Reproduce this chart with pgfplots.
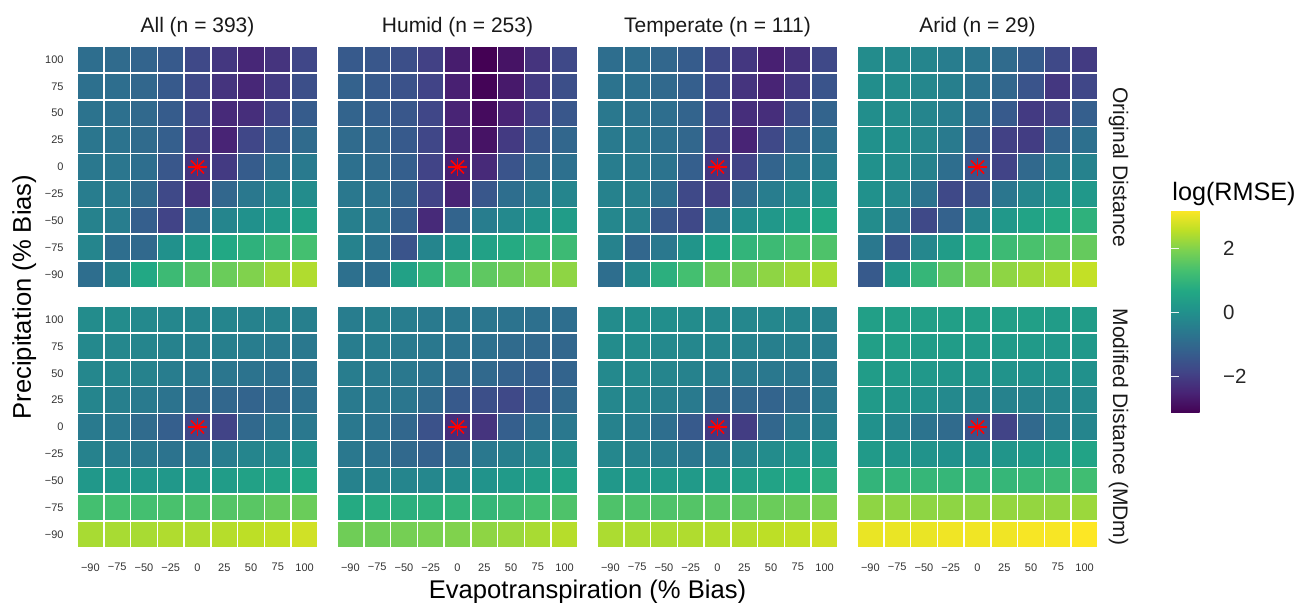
\documentclass[border=0pt]{standalone}
\usepackage{fontspec}
\setmainfont{Liberation Sans}
\usepackage{pgfplots}
\usepackage{pgfplotstable}
\pgfplotsset{compat=1.18}

\pgfplotsset{colormap={vir}{rgb255=(68,1,84) rgb255=(72,36,117) rgb255=(65,68,135) rgb255=(53,95,141) rgb255=(42,120,142) rgb255=(33,145,140) rgb255=(34,168,132) rgb255=(68,191,112) rgb255=(122,209,81) rgb255=(189,223,38) rgb255=(253,231,37)}}

% Panel A: All, Original Distance (x = ET index, y = P index, c = log(RMSE))
\pgfplotstableread[row sep=\\]{
x y c\\
0 8 -0.86\\ 1 8 -0.93\\ 2 8 -1.12\\ 3 8 -1.37\\ 4 8 -1.75\\ 5 8 -2.13\\ 6 8 -2.45\\ 7 8 -2.20\\ 8 8 -1.82\\
0 7 -0.80\\ 1 7 -0.86\\ 2 7 -1.05\\ 3 7 -1.37\\ 4 7 -1.75\\ 5 7 -2.20\\ 6 7 -2.45\\ 7 7 -2.07\\ 8 7 -1.63\\
0 6 -0.74\\ 1 6 -0.80\\ 2 6 -0.99\\ 3 6 -1.31\\ 4 6 -1.75\\ 5 6 -2.39\\ 6 6 -2.32\\ 7 6 -1.82\\ 8 6 -1.31\\
0 5 -0.67\\ 1 5 -0.74\\ 2 5 -0.93\\ 3 5 -1.25\\ 4 5 -1.94\\ 5 5 -2.52\\ 6 5 -1.82\\ 7 5 -1.37\\ 8 5 -0.93\\
0 4 -0.61\\ 1 4 -0.67\\ 2 4 -0.86\\ 3 4 -1.44\\ 4 4 -2.20\\ 5 4 -2.07\\ 6 4 -1.31\\ 7 4 -0.86\\ 8 4 -0.55\\
0 3 -0.48\\ 1 3 -0.55\\ 2 3 -0.93\\ 3 3 -1.75\\ 4 3 -2.20\\ 5 3 -1.05\\ 6 3 -0.61\\ 7 3 -0.29\\ 8 3 -0.10\\
0 2 -0.36\\ 1 2 -0.48\\ 2 2 -1.25\\ 3 2 -1.88\\ 4 2 -0.86\\ 5 2 -0.29\\ 6 2 0.03\\ 7 2 0.28\\ 8 2 0.47\\
0 1 -0.29\\ 1 1 -0.86\\ 2 1 -0.99\\ 3 1 0.03\\ 4 1 0.41\\ 5 1 0.66\\ 6 1 0.91\\ 7 1 1.17\\ 8 1 1.30\\
0 0 -0.86\\ 1 0 -0.42\\ 2 0 0.66\\ 3 0 1.17\\ 4 0 1.49\\ 5 0 1.74\\ 6 0 1.99\\ 7 0 2.31\\ 8 0 2.44\\
}\tA

% Panel B: Humid, Original Distance
\pgfplotstableread[row sep=\\]{
x y c\\
0 8 -1.37\\ 1 8 -1.44\\ 2 8 -1.63\\ 3 8 -1.94\\ 4 8 -2.64\\ 5 8 -3.15\\ 6 8 -2.83\\ 7 8 -2.20\\ 8 8 -1.75\\
0 7 -1.18\\ 1 7 -1.37\\ 2 7 -1.56\\ 3 7 -1.88\\ 4 7 -2.58\\ 5 7 -3.09\\ 6 7 -2.71\\ 7 7 -2.07\\ 8 7 -1.63\\
0 6 -1.12\\ 1 6 -1.25\\ 2 6 -1.44\\ 3 6 -1.82\\ 4 6 -2.52\\ 5 6 -2.96\\ 6 6 -2.52\\ 7 6 -1.88\\ 8 6 -1.44\\
0 5 -0.93\\ 1 5 -1.05\\ 2 5 -1.37\\ 3 5 -1.82\\ 4 5 -2.52\\ 5 5 -2.83\\ 6 5 -2.07\\ 7 5 -1.44\\ 8 5 -1.05\\
0 4 -0.80\\ 1 4 -0.93\\ 2 4 -1.25\\ 3 4 -1.88\\ 4 4 -2.58\\ 5 4 -2.39\\ 6 4 -1.50\\ 7 4 -1.05\\ 8 4 -0.80\\
0 3 -0.61\\ 1 3 -0.74\\ 2 3 -1.12\\ 3 3 -1.88\\ 4 3 -2.52\\ 5 3 -1.44\\ 6 3 -0.86\\ 7 3 -0.55\\ 8 3 -0.29\\
0 2 -0.42\\ 1 2 -0.61\\ 2 2 -1.25\\ 3 2 -2.39\\ 4 2 -1.12\\ 5 2 -0.48\\ 6 2 -0.17\\ 7 2 0.15\\ 8 2 0.34\\
0 1 -0.36\\ 1 1 -0.74\\ 2 1 -1.50\\ 3 1 -0.29\\ 4 1 0.15\\ 5 1 0.47\\ 6 1 0.72\\ 7 1 0.98\\ 8 1 1.17\\
0 0 -0.80\\ 1 0 -0.86\\ 2 0 0.47\\ 3 0 0.98\\ 4 0 1.36\\ 5 0 1.61\\ 6 0 1.80\\ 7 0 1.99\\ 8 0 2.12\\
}\tB

% Panel C: Temperate, Original Distance
\pgfplotstableread[row sep=\\]{
x y c\\
0 8 -0.86\\ 1 8 -0.86\\ 2 8 -1.05\\ 3 8 -1.31\\ 4 8 -1.75\\ 5 8 -2.13\\ 6 8 -2.58\\ 7 8 -2.26\\ 8 8 -1.75\\
0 7 -0.74\\ 1 7 -0.80\\ 2 7 -0.99\\ 3 7 -1.25\\ 4 7 -1.69\\ 5 7 -2.20\\ 6 7 -2.52\\ 7 7 -2.07\\ 8 7 -1.50\\
0 6 -0.61\\ 1 6 -0.74\\ 2 6 -0.86\\ 3 6 -1.12\\ 4 6 -1.69\\ 5 6 -2.32\\ 6 6 -2.32\\ 7 6 -1.63\\ 8 6 -1.12\\
0 5 -0.55\\ 1 5 -0.61\\ 2 5 -0.80\\ 3 5 -1.05\\ 4 5 -1.82\\ 5 5 -2.52\\ 6 5 -1.75\\ 7 5 -1.18\\ 8 5 -0.80\\
0 4 -0.48\\ 1 4 -0.55\\ 2 4 -0.74\\ 3 4 -1.25\\ 4 4 -2.13\\ 5 4 -1.88\\ 6 4 -1.12\\ 7 4 -0.74\\ 8 4 -0.48\\
0 3 -0.36\\ 1 3 -0.42\\ 2 3 -0.80\\ 3 3 -1.75\\ 4 3 -1.94\\ 5 3 -0.93\\ 6 3 -0.48\\ 7 3 -0.17\\ 8 3 0.09\\
0 2 -0.23\\ 1 2 -0.36\\ 2 2 -1.44\\ 3 2 -1.75\\ 4 2 -0.61\\ 5 2 -0.04\\ 6 2 0.22\\ 7 2 0.47\\ 8 2 0.66\\
0 1 -0.36\\ 1 1 -1.05\\ 2 1 -0.61\\ 3 1 0.15\\ 4 1 0.60\\ 5 1 0.98\\ 6 1 1.17\\ 7 1 1.36\\ 8 1 1.42\\
0 0 -0.86\\ 1 0 -0.23\\ 2 0 0.85\\ 3 0 1.30\\ 4 0 1.74\\ 5 0 1.87\\ 6 0 2.12\\ 7 0 2.31\\ 8 0 2.41\\
}\tC

% Panel D: Arid, Original Distance
\pgfplotstableread[row sep=\\]{
x y c\\
0 8 -0.10\\ 1 8 -0.17\\ 2 8 -0.29\\ 3 8 -0.48\\ 4 8 -0.67\\ 5 8 -0.93\\ 6 8 -1.31\\ 7 8 -1.75\\ 8 8 -2.05\\
0 7 -0.04\\ 1 7 -0.10\\ 2 7 -0.23\\ 3 7 -0.42\\ 4 7 -0.74\\ 5 7 -1.05\\ 6 7 -1.50\\ 7 7 -2.13\\ 8 7 -1.82\\
0 6 -0.04\\ 1 6 -0.10\\ 2 6 -0.29\\ 3 6 -0.48\\ 4 6 -0.86\\ 5 6 -1.37\\ 6 6 -2.07\\ 7 6 -1.94\\ 8 6 -1.25\\
0 5 0.03\\ 1 5 -0.04\\ 2 5 -0.23\\ 3 5 -0.55\\ 4 5 -1.18\\ 5 5 -1.94\\ 6 5 -2.01\\ 7 5 -1.12\\ 8 5 -0.80\\
0 4 0.03\\ 1 4 -0.10\\ 2 4 -0.36\\ 3 4 -0.86\\ 4 4 -1.50\\ 5 4 -1.88\\ 6 4 -0.99\\ 7 4 -0.55\\ 8 4 -0.36\\
0 3 0.03\\ 1 3 -0.17\\ 2 3 -0.74\\ 3 3 -1.75\\ 4 3 -1.56\\ 5 3 -0.67\\ 6 3 -0.23\\ 7 3 0.09\\ 8 3 0.22\\
0 2 -0.10\\ 1 2 -0.48\\ 2 2 -1.75\\ 3 2 -1.18\\ 4 2 -0.29\\ 5 2 0.22\\ 6 2 0.53\\ 7 2 0.72\\ 8 2 0.91\\
0 1 -0.61\\ 1 1 -1.56\\ 2 1 -0.23\\ 3 1 0.34\\ 4 1 0.79\\ 5 1 1.17\\ 6 1 1.36\\ 7 1 1.55\\ 8 1 1.68\\
0 0 -1.37\\ 1 0 0.22\\ 2 0 1.04\\ 3 0 1.61\\ 4 0 1.87\\ 5 0 2.12\\ 6 0 2.31\\ 7 0 2.44\\ 8 0 2.63\\
}\tD

% Panel E: All, Modified Distance (MDm)
\pgfplotstableread[row sep=\\]{
x y c\\
0 8 -0.10\\ 1 8 -0.10\\ 2 8 -0.17\\ 3 8 -0.23\\ 4 8 -0.29\\ 5 8 -0.29\\ 6 8 -0.36\\ 7 8 -0.36\\ 8 8 -0.42\\
0 7 -0.17\\ 1 7 -0.23\\ 2 7 -0.29\\ 3 7 -0.36\\ 4 7 -0.42\\ 5 7 -0.42\\ 6 7 -0.48\\ 7 7 -0.55\\ 8 7 -0.61\\
0 6 -0.23\\ 1 6 -0.29\\ 2 6 -0.36\\ 3 6 -0.48\\ 4 6 -0.61\\ 5 6 -0.67\\ 6 6 -0.74\\ 7 6 -0.80\\ 8 6 -0.74\\
0 5 -0.29\\ 1 5 -0.42\\ 2 5 -0.55\\ 3 5 -0.74\\ 4 5 -0.93\\ 5 5 -1.05\\ 6 5 -1.12\\ 7 5 -0.99\\ 8 5 -0.80\\
0 4 -0.55\\ 1 4 -0.61\\ 2 4 -0.93\\ 3 4 -1.25\\ 4 4 -1.82\\ 5 4 -1.88\\ 6 4 -0.99\\ 7 4 -0.74\\ 8 4 -0.61\\
0 3 -0.36\\ 1 3 -0.48\\ 2 3 -0.61\\ 3 3 -0.74\\ 4 3 -0.67\\ 5 3 -0.48\\ 6 3 -0.29\\ 7 3 -0.17\\ 8 3 0.03\\
0 2 0.22\\ 1 2 0.22\\ 2 2 0.22\\ 3 2 0.22\\ 4 2 0.28\\ 5 2 0.34\\ 6 2 0.47\\ 7 2 0.53\\ 8 2 0.66\\
0 1 1.30\\ 1 1 1.30\\ 2 1 1.30\\ 3 1 1.36\\ 4 1 1.42\\ 5 1 1.49\\ 6 1 1.55\\ 7 1 1.68\\ 8 1 1.74\\
0 0 2.37\\ 1 0 2.37\\ 2 0 2.37\\ 3 0 2.44\\ 4 0 2.44\\ 5 0 2.50\\ 6 0 2.57\\ 7 0 2.63\\ 8 0 2.76\\
}\tE

% Panel F: Humid, Modified Distance (MDm)
\pgfplotstableread[row sep=\\]{
x y c\\
0 8 -0.48\\ 1 8 -0.42\\ 2 8 -0.48\\ 3 8 -0.55\\ 4 8 -0.61\\ 5 8 -0.67\\ 6 8 -0.74\\ 7 8 -0.80\\ 8 8 -0.86\\
0 7 -0.48\\ 1 7 -0.48\\ 2 7 -0.55\\ 3 7 -0.61\\ 4 7 -0.74\\ 5 7 -0.80\\ 6 7 -0.93\\ 7 7 -0.99\\ 8 7 -1.05\\
0 6 -0.48\\ 1 6 -0.55\\ 2 6 -0.61\\ 3 6 -0.74\\ 4 6 -0.93\\ 5 6 -0.99\\ 6 6 -1.18\\ 7 6 -1.25\\ 8 6 -1.12\\
0 5 -0.55\\ 1 5 -0.61\\ 2 5 -0.67\\ 3 5 -0.93\\ 4 5 -1.37\\ 5 5 -1.63\\ 6 5 -1.75\\ 7 5 -1.37\\ 8 5 -0.99\\
0 4 -0.61\\ 1 4 -0.74\\ 2 4 -1.05\\ 3 4 -1.56\\ 4 4 -2.32\\ 5 4 -2.20\\ 6 4 -1.25\\ 7 4 -0.86\\ 8 4 -0.61\\
0 3 -0.61\\ 1 3 -0.74\\ 2 3 -0.99\\ 3 3 -1.18\\ 4 3 -0.93\\ 5 3 -0.61\\ 6 3 -0.42\\ 7 3 -0.23\\ 8 3 -0.10\\
0 2 -0.36\\ 1 2 -0.36\\ 2 2 -0.29\\ 3 2 -0.23\\ 4 2 -0.10\\ 5 2 0.09\\ 6 2 0.28\\ 7 2 0.41\\ 8 2 0.53\\
0 1 0.72\\ 1 1 0.79\\ 2 1 0.85\\ 3 1 0.91\\ 4 1 0.98\\ 5 1 1.04\\ 6 1 1.17\\ 7 1 1.30\\ 8 1 1.42\\
0 0 1.80\\ 1 0 1.80\\ 2 0 1.87\\ 3 0 1.93\\ 4 0 1.99\\ 5 0 2.12\\ 6 0 2.25\\ 7 0 2.37\\ 8 0 2.50\\
}\tF

% Panel G: Temperate, Modified Distance (MDm)
\pgfplotstableread[row sep=\\]{
x y c\\
0 8 -0.10\\ 1 8 -0.04\\ 2 8 -0.04\\ 3 8 -0.10\\ 4 8 -0.17\\ 5 8 -0.23\\ 6 8 -0.23\\ 7 8 -0.29\\ 8 8 -0.36\\
0 7 -0.10\\ 1 7 -0.10\\ 2 7 -0.17\\ 3 7 -0.23\\ 4 7 -0.29\\ 5 7 -0.36\\ 6 7 -0.42\\ 7 7 -0.42\\ 8 7 -0.48\\
0 6 -0.17\\ 1 6 -0.17\\ 2 6 -0.29\\ 3 6 -0.36\\ 4 6 -0.48\\ 5 6 -0.55\\ 6 6 -0.61\\ 7 6 -0.67\\ 8 6 -0.61\\
0 5 -0.23\\ 1 5 -0.29\\ 2 5 -0.42\\ 3 5 -0.55\\ 4 5 -0.93\\ 5 5 -1.05\\ 6 5 -1.12\\ 7 5 -0.93\\ 8 5 -0.61\\
0 4 -0.36\\ 1 4 -0.48\\ 2 4 -0.86\\ 3 4 -1.37\\ 4 4 -2.07\\ 5 4 -2.01\\ 6 4 -1.05\\ 7 4 -0.61\\ 8 4 -0.42\\
0 3 -0.23\\ 1 3 -0.36\\ 2 3 -0.48\\ 3 3 -0.67\\ 4 3 -0.55\\ 5 3 -0.36\\ 6 3 -0.10\\ 7 3 0.09\\ 8 3 0.22\\
0 2 0.22\\ 1 2 0.22\\ 2 2 0.28\\ 3 2 0.28\\ 4 2 0.34\\ 5 2 0.41\\ 6 2 0.53\\ 7 2 0.66\\ 8 2 0.85\\
0 1 1.42\\ 1 1 1.42\\ 2 1 1.42\\ 3 1 1.49\\ 4 1 1.55\\ 5 1 1.61\\ 6 1 1.74\\ 7 1 1.80\\ 8 1 1.93\\
0 0 2.41\\ 1 0 2.41\\ 2 0 2.41\\ 3 0 2.44\\ 4 0 2.47\\ 5 0 2.50\\ 6 0 2.57\\ 7 0 2.63\\ 8 0 2.76\\
}\tG

% Panel H: Arid, Modified Distance (MDm)
\pgfplotstableread[row sep=\\]{
x y c\\
0 8 0.41\\ 1 8 0.41\\ 2 8 0.41\\ 3 8 0.41\\ 4 8 0.41\\ 5 8 0.41\\ 6 8 0.41\\ 7 8 0.34\\ 8 8 0.34\\
0 7 0.41\\ 1 7 0.41\\ 2 7 0.34\\ 3 7 0.34\\ 4 7 0.28\\ 5 7 0.28\\ 6 7 0.28\\ 7 7 0.22\\ 8 7 0.22\\
0 6 0.34\\ 1 6 0.28\\ 2 6 0.22\\ 3 6 0.15\\ 4 6 0.09\\ 5 6 0.09\\ 6 6 0.03\\ 7 6 0.03\\ 8 6 0.03\\
0 5 0.28\\ 1 5 0.15\\ 2 5 0.03\\ 3 5 -0.17\\ 4 5 -0.29\\ 5 5 -0.36\\ 6 5 -0.36\\ 7 5 -0.29\\ 8 5 -0.17\\
0 4 0.03\\ 1 4 -0.29\\ 2 4 -0.74\\ 3 4 -0.93\\ 4 4 -1.56\\ 5 4 -1.88\\ 6 4 -0.99\\ 7 4 -0.48\\ 8 4 -0.29\\
0 3 0.28\\ 1 3 0.15\\ 2 3 0.09\\ 3 3 0.03\\ 4 3 0.03\\ 5 3 0.15\\ 6 3 0.28\\ 7 3 0.41\\ 8 3 0.53\\
0 2 0.98\\ 1 2 0.98\\ 2 2 1.04\\ 3 2 1.04\\ 4 2 1.04\\ 5 2 1.04\\ 6 2 1.10\\ 7 2 1.17\\ 8 2 1.23\\
0 1 2.12\\ 1 1 2.12\\ 2 1 2.12\\ 3 1 2.12\\ 4 1 2.12\\ 5 1 2.18\\ 6 1 2.18\\ 7 1 2.18\\ 8 1 2.25\\
0 0 3.01\\ 1 0 3.01\\ 2 0 3.01\\ 3 0 3.07\\ 4 0 3.07\\ 5 0 3.07\\ 6 0 3.14\\ 7 0 3.14\\ 8 0 3.20\\
}\tH

% colour bar tick marks (white, on both edges of the bar)
\pgfplotstableread[row sep=\\]{
x y\\
0 -2\\ 0.2 -2\\ nan nan\\ 0.8 -2\\ 1 -2\\ nan nan\\
0 0\\ 0.2 0\\ nan nan\\ 0.8 0\\ 1 0\\ nan nan\\
0 2\\ 0.2 2\\ nan nan\\ 0.8 2\\ 1 2\\
}\tTicks

\pgfplotsset{
  panel/.style={
    scale only axis, width=120.5pt, height=121pt, anchor=north west,
    xmin=-0.5, xmax=8.5, ymin=-0.5, ymax=8.5,
    axis line style={draw=none}, major tick length=0pt,
    xtick=\empty, ytick=\empty,
    colormap name=vir, point meta min=-3.15, point meta max=3.2,
    ticklabel style={font=\fontsize{5.5}{6}\selectfont, text=black!80, inner sep=0pt},
    clip=false,
  },
  xlab/.style={xtick={0,...,8}, xticklabels={−90,−75,−50,−25,0,25,50,75,100},
    xticklabel style={anchor=north, yshift=-7.5pt}},
  ylab/.style={ytick={0,...,8}, yticklabels={−90,−75,−50,−25,0,25,50,75,100},
    yticklabel style={anchor=east, xshift=-6.5pt}},
  cells/.style={matrix plot*, mesh/cols=9, point meta=explicit, draw=white, line width=0.75pt},
}
\newcommand{\refmark}{%
  \addplot[only marks, red, mark=+, mark size=4.6pt, line width=0.8pt] coordinates {(4,4)};
  \addplot[only marks, red, mark=x, mark size=4.6pt, line width=0.8pt] coordinates {(4,4)};
}

\begin{document}
\begin{tikzpicture}
\useasboundingbox (0,0) rectangle (649.5pt,-301.5pt);

\begin{axis}[panel, ylab, at={(38.5pt,-23pt)}]
\addplot[cells] table[meta=c] {\tA};
\refmark
\end{axis}
\begin{axis}[panel, at={(168.5pt,-23pt)}]
\addplot[cells] table[meta=c] {\tB};
\refmark
\end{axis}
\begin{axis}[panel, at={(298.5pt,-23pt)}]
\addplot[cells] table[meta=c] {\tC};
\refmark
\end{axis}
\begin{axis}[panel, at={(428.5pt,-23pt)},
  colorbar,
  colorbar style={
    at={(parent axis.north east)}, anchor=north west,
    xshift=28pt, yshift=-82pt,
    scale only axis, width=20.85pt, height=101.5pt,
    axis line style={draw=none},
    ytick={-2,0,2}, yticklabels={−2,0,2},
    yticklabel pos=right, major tick length=0pt,
    yticklabel style={font=\fontsize{10.25}{12}\selectfont, anchor=west, inner sep=0pt, xshift=5pt, text=black!85},
  }]
\addplot[cells] table[meta=c] {\tD};
\refmark
\end{axis}

\begin{axis}[panel, xlab, ylab, at={(38.5pt,-153pt)}]
\addplot[cells] table[meta=c] {\tE};
\refmark
\end{axis}
\begin{axis}[panel, xlab, at={(168.5pt,-153pt)}]
\addplot[cells] table[meta=c] {\tF};
\refmark
\end{axis}
\begin{axis}[panel, xlab, at={(298.5pt,-153pt)}]
\addplot[cells] table[meta=c] {\tG};
\refmark
\end{axis}
\begin{axis}[panel, xlab, at={(428.5pt,-153pt)}]
\addplot[cells] table[meta=c] {\tH};
\refmark
\end{axis}

% overlay axis for the white tick marks of the colour bar
\begin{axis}[scale only axis, width=20.85pt, height=101.5pt, anchor=north west,
  at={(585.5pt,-105pt)}, xmin=0, xmax=1, ymin=-3.15, ymax=3.2, hide axis,
  mesh/rows=1, mesh/check=false, unbounded coords=jump]
\addplot[sharp plot, no marks, white, line width=0.6pt, opacity=0.9] table {\tTicks};
\end{axis}

\node[anchor=base west, inner sep=0pt, font=\fontsize{12.6}{14}\selectfont] at (586pt,-100.35pt) {log(RMSE)};

% facet titles
\foreach \t [count=\i from 0] in {All (n = 393), Humid (n = 253), Temperate (n = 111), Arid (n = 29)}
  \node[anchor=base, inner sep=0pt, font=\fontsize{10.5}{12}\selectfont, text=black!90] at (98.75pt+\i*130pt,-16.5pt) {\t};
\node[anchor=base, rotate=-90, inner sep=0pt, font=\fontsize{10.5}{12}\selectfont, text=black!90] at (556.5pt,-83.5pt) {Original Distance};
\node[anchor=base, rotate=-90, inner sep=0pt, font=\fontsize{10.5}{12}\selectfont, text=black!90] at (556.5pt,-213.5pt) {Modified Distance (MDm)};

% axis titles
\node[anchor=base, inner sep=0pt, font=\fontsize{12.8}{14}\selectfont] at (293.75pt,-299pt) {Evapotranspiration (\% Bias)};
\node[anchor=base, rotate=90, inner sep=0pt, font=\fontsize{12.8}{14}\selectfont] at (15.5pt,-148.5pt) {Precipitation (\% Bias)};
\end{tikzpicture}
\end{document}
